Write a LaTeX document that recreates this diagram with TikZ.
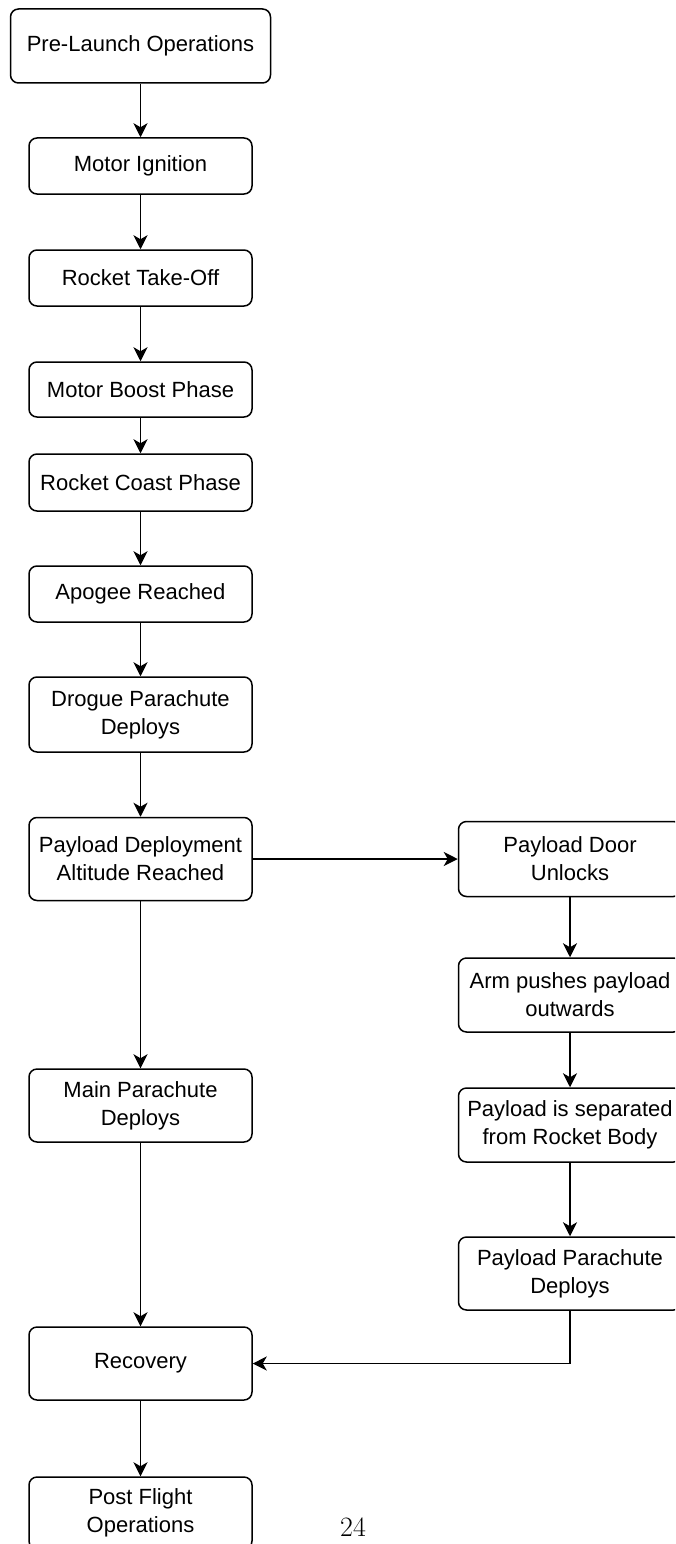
\documentclass[tikz,border=0pt]{standalone}
\usepackage{fontspec}
\setsansfont{Liberation Sans}
\usetikzlibrary{arrows.meta}
\begin{document}
\begin{tikzpicture}[x=1pt,y=-1pt,
  box/.style={draw, rounded corners=8pt, line width=1.5pt, align=center, inner sep=0pt,
    minimum width=223pt, font=\sffamily\fontsize{22}{28}\selectfont, text=black},
  arr/.style={line width=1.6pt, -{Stealth[length=14pt,width=14pt,inset=4pt]}}]
\clip (0,0) rectangle (675,1544);
\fill[white] (0,0) rectangle (675,1544);
% left column
\node[box, minimum width=260pt, minimum height=74pt] (pre) at (140.5,46) {Pre-Launch Operations};
\node[box, minimum height=56pt] (ign) at (140.5,166) {Motor Ignition};
\node[box, minimum height=56pt] (tko) at (140.5,278) {Rocket Take-Off};
\node[box, minimum height=55pt] (boost) at (140.5,389.5) {Motor Boost Phase};
\node[box, minimum height=57pt] (coast) at (140.5,482.5) {Rocket Coast Phase};
\node[box, minimum height=56pt] (apo) at (140.5,594) {Apogee Reached};
\node[box, minimum height=75pt] (drogue) at (140.5,714.5) {Drogue Parachute\\Deploys};
\node[box, minimum height=83pt] (pd) at (140.5,859) {Payload Deployment\\Altitude Reached};
\node[box, minimum height=73pt] (main) at (140.5,1105.5) {Main Parachute\\Deploys};
\node[box, minimum height=73pt] (rec) at (140.5,1363.5) {Recovery};
\node[box, minimum height=72pt] (post) at (140.5,1513) {Post Flight\\Operations};
% right column
\node[box, minimum height=75pt] (door) at (570,859) {Payload Door\\Unlocks};
\node[box, minimum height=74pt] (arm) at (570,995) {Arm pushes payload\\outwards};
\node[box, minimum height=74pt] (sep) at (570,1125) {Payload is separated\\from Rocket Body};
\node[box, minimum height=73pt] (pp) at (570,1273.5) {Payload Parachute\\Deploys};
% page number
\node[font=\fontsize{28}{30}\selectfont] (page) at (353,1527) {24};
% connectors
\draw[arr] (pre.south) -- (ign.north);
\draw[arr] (ign.south) -- (tko.north);
\draw[arr] (tko.south) -- (boost.north);
\draw[arr] (boost.south) -- (coast.north);
\draw[arr] (coast.south) -- (apo.north);
\draw[arr] (apo.south) -- (drogue.north);
\draw[arr] (drogue.south) -- (pd.north);
\draw[arr] (pd.south) -- (main.north);
\draw[arr] (main.south) -- (rec.north);
\draw[arr] (rec.south) -- (post.north);
\draw[arr] (pd.east) -- (door.west);
\draw[arr] (door.south) -- (arm.north);
\draw[arr] (arm.south) -- (sep.north);
\draw[arr] (sep.south) -- (pp.north);
\draw[arr] (pp.south) |- (rec.east);
\end{tikzpicture}
\end{document}
